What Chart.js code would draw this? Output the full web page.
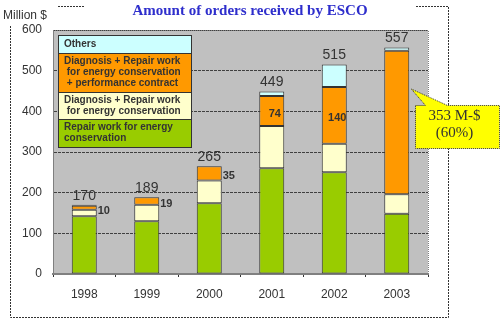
<!DOCTYPE html>
<html>
<head>
<meta charset="utf-8">
<script src="https://cdn.jsdelivr.net/npm/chart.js@4/dist/chart.umd.min.js"></script>
<style>
  html, body { margin: 0; padding: 0; background: #fff; }
  #wrap { width: 500px; height: 322px; }
</style>
</head>
<body>
<div id="wrap"><canvas id="myChart" width="500" height="322"></canvas></div>
<script>
// values (million $)
const years = ['1998', '1999', '2000', '2001', '2002', '2003'];
const repairWork = [142, 130, 174, 260, 250, 148];
const diagRepair = [16, 40, 56, 104, 70, 48];
const diagRepairPerf = [10, 19, 35, 74, 140, 353];
const others = [2, null, null, 11, 55, 8];
const totals = [170, 189, 265, 449, 515, 557];
const perfLabels = ['10', '19', '35', '74', '140', null];
const yTicks = [0, 100, 200, 300, 400, 500, 600];
const calloutLines = ['353 M-$', '(60%)'];

const legendItems = [
    { color: '#ccffff', lines: ['Others'], h: 18 },
    { color: '#ff9900', lines: ['Diagnosis + Repair work', ' for energy conservation', ' + performance contract'], h: 39 },
    { color: '#ffffcc', lines: ['Diagnosis + Repair work', ' for energy conservation'], h: 27 },
    { color: '#99cc00', lines: ['Repair work for energy', 'conservation'], h: 28 }
];

const decorations = {
    id: 'decorations',
    beforeDraw(chart) {
        const { ctx, chartArea: a } = chart;
        ctx.save();
        ctx.fillStyle = '#c0c0c0';
        ctx.fillRect(a.left, a.top, a.right - a.left, a.bottom - a.top);
        ctx.restore();
    },
    afterDraw(chart) {
        const { ctx, chartArea: a } = chart;
        const yScale = chart.scales.y;
        ctx.save();

        // dotted border of the plot area
        ctx.strokeStyle = '#808080';
        ctx.lineWidth = 1;
        ctx.setLineDash([1, 1]);
        ctx.beginPath();
        ctx.moveTo(a.left, a.top + 0.5);
        ctx.lineTo(a.right + 0.5, a.top + 0.5);
        ctx.lineTo(a.right + 0.5, a.bottom);
        ctx.stroke();

        // outer frame (gapped for title and unit label)
        ctx.strokeStyle = '#333';
        ctx.setLineDash([2, 1]);
        ctx.beginPath();
        ctx.moveTo(58, 6.5); ctx.lineTo(84, 6.5);
        ctx.moveTo(416, 6.5); ctx.lineTo(448.5, 6.5); ctx.lineTo(448.5, 317.5);
        ctx.lineTo(10.5, 317.5); ctx.lineTo(10.5, 25);
        ctx.stroke();
        ctx.setLineDash([]);

        // title
        ctx.fillStyle = '#2e2ecc';
        ctx.font = 'bold 15px "Liberation Serif", "Times New Roman", serif';
        ctx.textAlign = 'center';
        ctx.textBaseline = 'middle';
        ctx.fillText('Amount of orders received by ESCO', 250, 11);

        // unit label
        ctx.fillStyle = '#333';
        ctx.font = '12px "Liberation Sans", Arial, sans-serif';
        ctx.textAlign = 'left';
        ctx.fillText('Million $', 3, 16);

        // legend box
        let ly = a.top + 5;
        const lx = a.left + 5, lw = 133;
        legendItems.forEach(item => {
            ctx.fillStyle = item.color;
            ctx.fillRect(lx, ly, lw, item.h);
            ctx.strokeStyle = '#333';
            ctx.lineWidth = 1;
            ctx.strokeRect(lx + 0.5, ly + 0.5, lw, item.h);
            ctx.fillStyle = '#333';
            ctx.font = 'bold 10px "Liberation Sans", Arial, sans-serif';
            ctx.textAlign = 'left';
            ctx.textBaseline = 'middle';
            const n = item.lines.length;
            const top = ly + item.h / 2 - (n - 1) * 11 / 2;
            item.lines.forEach((t, i) => ctx.fillText(t, lx + 6, top + i * 11));
            ly += item.h;
        });

        // totals above the bars
        const perfMeta = chart.getDatasetMeta(2);
        const baseMeta = chart.getDatasetMeta(0);
        ctx.font = '14px "Liberation Sans", Arial, sans-serif';
        ctx.textAlign = 'center';
        ctx.textBaseline = 'bottom';
        totals.forEach((t, i) => {
            const x = baseMeta.data[i].x;
            ctx.fillStyle = '#333';
            ctx.fillText(String(t), x, yScale.getPixelForValue(t) - 2);
        });

        // orange segment labels
        ctx.font = 'bold 11px "Liberation Sans", Arial, sans-serif';
        ctx.textBaseline = 'middle';
        perfLabels.forEach((lab, i) => {
            if (!lab) return;
            const bar = perfMeta.data[i];
            const mid = (bar.y + bar.base) / 2 + 3;
            if (diagRepairPerf[i] < 50) {
                ctx.textAlign = 'left';
                ctx.fillText(lab, bar.x + bar.width / 2 + 1, mid);
            } else {
                ctx.textAlign = 'center';
                ctx.fillText(lab, bar.x + 3, mid);
            }
        });

        // callout for 2003
        const b = perfMeta.data[5];
        const tipX = b.x + b.width / 2 + 2;
        const tipY = yScale.getPixelForValue(455);
        const bx = 415.5, by = 105.5, bw = 84, bh = 43;
        ctx.fillStyle = '#ffff00';
        ctx.strokeStyle = '#333';
        ctx.setLineDash([1, 1]);
        ctx.beginPath();
        ctx.moveTo(bx, by);
        ctx.lineTo(bx + 10, by);
        ctx.lineTo(tipX, tipY);
        ctx.lineTo(bx + 32, by);
        ctx.lineTo(bx + bw, by);
        ctx.lineTo(bx + bw, by + bh);
        ctx.lineTo(bx, by + bh);
        ctx.closePath();
        ctx.fill();
        ctx.stroke();
        ctx.setLineDash([]);
        ctx.fillStyle = '#333';
        ctx.font = '15px "Liberation Serif", "Times New Roman", serif';
        ctx.textAlign = 'center';
        ctx.fillText(calloutLines[0], bx + 39, by + 11);
        ctx.fillText(calloutLines[1], bx + 39, by + 28);

        ctx.restore();
    }
};

const ctx = document.getElementById('myChart').getContext('2d');
const seg = (data, color) => ({
    data: data,
    backgroundColor: color,
    borderColor: '#333',
    borderWidth: 1,
    borderSkipped: false,
    categoryPercentage: 1,
    barPercentage: 0.4
});

const myChart = new Chart(ctx, {
    type: 'bar',
    data: {
        labels: years,
        datasets: [
            seg(repairWork, '#99cc00'),
            seg(diagRepair, '#ffffcc'),
            seg(diagRepairPerf, '#ff9900'),
            seg(others, '#ccffff')
        ]
    },
    plugins: [decorations],
    options: {
        responsive: false,
        animation: false,
        events: [],
        layout: { padding: { left: 0, right: 72, top: 30, bottom: 0 } },
        plugins: { legend: { display: false }, tooltip: { enabled: false } },
        scales: {
            x: {
                stacked: true,
                afterFit: s => { s.height = 48; },
                border: { color: '#808080', width: 2 },
                grid: { drawOnChartArea: false, tickLength: 3, color: '#333' },
                ticks: {
                    color: '#333',
                    padding: 10,
                    font: { family: '"Liberation Sans", Arial, sans-serif', size: 12 }
                }
            },
            y: {
                stacked: true,
                min: 0,
                max: 600,
                afterFit: s => { s.width = 53; },
                afterBuildTicks: s => { s.ticks = yTicks.map(v => ({ value: v })); },
                border: { color: '#808080', width: 1, dash: [3, 1] },
                grid: { color: '#404040', drawTicks: false, lineWidth: 1 },
                ticks: {
                    color: '#333',
                    padding: 11,
                    font: { family: '"Liberation Sans", Arial, sans-serif', size: 12 }
                }
            }
        }
    }
});
</script>
</body>
</html>
